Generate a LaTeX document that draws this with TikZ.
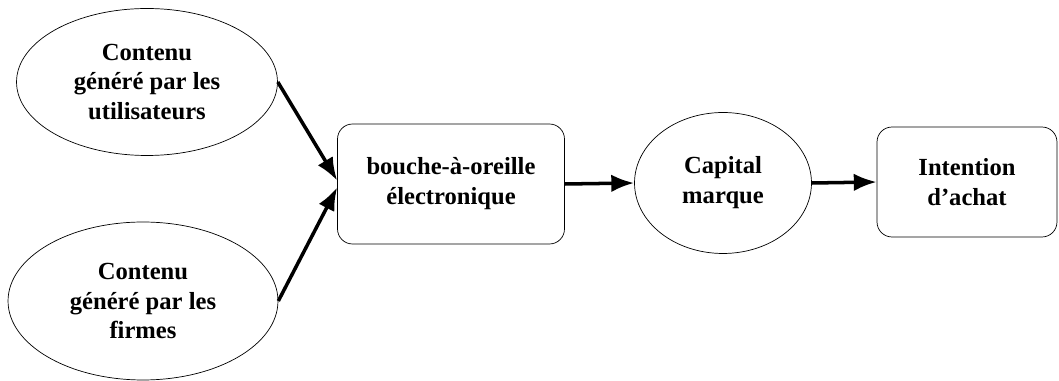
\documentclass[tikz,border=0pt]{standalone}
\usepackage{fontspec}
\setmainfont{Liberation Serif}
\usetikzlibrary{positioning, shapes.geometric, arrows.meta}

\begin{document}
\begin{tikzpicture}[x=0.02cm, y=-0.02cm, semithick,
            elipse/.style ={ellipse, draw, thin, align=center, inner sep=0pt,
            font=\fontsize{14}{17}\selectfont\bfseries},
            caja/.style ={rectangle, rounded corners=0.3cm, draw, thin, align=center,
            font=\fontsize{14}{17}\selectfont\bfseries},
            flecha/.style ={line width=2pt, -{Latex[length=13pt, width=10pt]}}]

        \useasboundingbox (0,0) rectangle (1059,381);

        % nodos
        \node[elipse, minimum width=5.22cm, minimum height=2.94cm] (usuarios) at (147, 82) {Contenu\\généré par les\\utilisateurs};
        \node[elipse, minimum width=5.4cm, minimum height=3.16cm] (firmes) at (143, 301) {Contenu\\généré par les\\firmes};
        \node[caja, minimum width=4.54cm, minimum height=2.4cm] (bao) at (451, 184) {bouche-à-oreille\\électronique};
        \node[elipse, minimum width=3.54cm, minimum height=2.82cm] (capital) at (723, 183) {Capital\\marque};
        \node[caja, minimum width=3.6cm, minimum height=2.2cm] (intention) at (967, 182) {Intention\\d’achat};

        % flechas
        \draw[flecha] (usuarios.east) -- ([yshift=2pt]bao.west);
        \draw[flecha] (firmes.east) -- ([yshift=-2pt]bao.west);
        \draw[flecha] (bao.east) -- (capital.west);
        \draw[flecha] (capital.east) -- (intention.west);

    \end{tikzpicture}
\end{document}
